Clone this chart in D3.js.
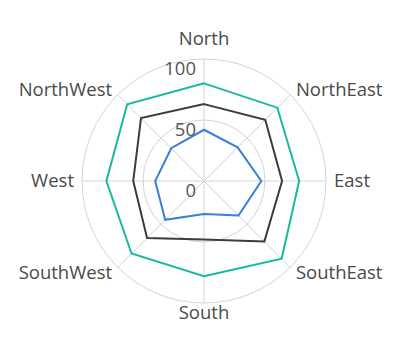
<!DOCTYPE html>
<html>
<head>
<meta charset="utf-8">
<script src="https://cdn.jsdelivr.net/npm/d3@7"></script>
<style>
  body { margin: 0; background: #fff; }
  text { font-family: "Open Sans", sans-serif; }
</style>
</head>
<body>
<div id="chart"></div>
<script>
// Categories around the radar
const directions = ["North", "NorthEast", "East", "SouthEast", "South", "SouthWest", "West", "NorthWest"];
// Series values
const outerValues = [80, 85, 78, 90, 78, 84, 80, 89];
const middleValues = [63, 71, 64, 70, 48, 66, 58, 73];
const innerValues = [42, 39, 47, 40, 27, 45, 40, 38];
// Value axis ticks
const valueTicks = [0, 50, 100];

const width = 417, height = 354;
const cx = 204, cy = 181, radius = 122;

const svg = d3.select("#chart").append("svg")
  .attr("width", width)
  .attr("height", height);

const g = svg.append("g").attr("transform", `translate(${cx},${cy})`);

const r = d3.scaleLinear().domain([0, 100]).range([0, radius]);
const angle = d3.scaleLinear().domain([0, directions.length]).range([0, 2 * Math.PI]);

// grid circles
g.selectAll("circle.grid")
  .data(valueTicks.filter(d => d > 0))
  .enter().append("circle")
  .attr("class", "grid")
  .attr("r", d => r(d))
  .attr("fill", "none")
  .attr("stroke", "#d2d2dc")
  .attr("stroke-width", 1);

// spokes
g.selectAll("line.spoke")
  .data(directions)
  .enter().append("line")
  .attr("class", "spoke")
  .attr("x1", 0).attr("y1", 0)
  .attr("x2", (d, i) => Math.sin(angle(i)) * r(100))
  .attr("y2", (d, i) => -Math.cos(angle(i)) * r(100))
  .attr("stroke", "#d2d2dc")
  .attr("stroke-width", 1);

// series
const line = d3.lineRadial()
  .angle((d, i) => angle(i))
  .radius(d => r(d))
  .curve(d3.curveLinearClosed);

const series = [
  { values: innerValues, color: "#3a7fd8" },
  { values: middleValues, color: "#3c3c3c" },
  { values: outerValues, color: "#17b9a2" }
];

g.selectAll("path.series")
  .data(series)
  .enter().append("path")
  .attr("class", "series")
  .attr("d", d => line(d.values))
  .attr("fill", "none")
  .attr("stroke", d => d.color)
  .attr("stroke-width", 2)
  .attr("stroke-linejoin", "miter");

// value axis labels
g.selectAll("text.tick")
  .data(valueTicks)
  .enter().append("text")
  .attr("class", "tick")
  .attr("x", -8)
  .attr("y", d => -r(d) + 16)
  .attr("text-anchor", "end")
  .attr("font-size", 18.5)
  .attr("fill", "#555")
  .text(d => d);

// direction labels
const labelR = radius + 8;
g.selectAll("text.dir")
  .data(directions)
  .enter().append("text")
  .attr("class", "dir")
  .attr("x", (d, i) => Math.sin(angle(i)) * labelR)
  .attr("y", (d, i) => {
    const c = Math.cos(angle(i));
    let y = -c * labelR;
    if (c > 0.9) y -= 12;
    if (c < -0.9) y += 2;
    return y;
  })
  .attr("dy", "0.35em")
  .attr("text-anchor", (d, i) => {
    const s = Math.sin(angle(i));
    return Math.abs(s) < 0.1 ? "middle" : (s > 0 ? "start" : "end");
  })
  .attr("font-size", 18.5)
  .attr("fill", "#4a4a4a")
  .text(d => d);
</script>
</body>
</html>
